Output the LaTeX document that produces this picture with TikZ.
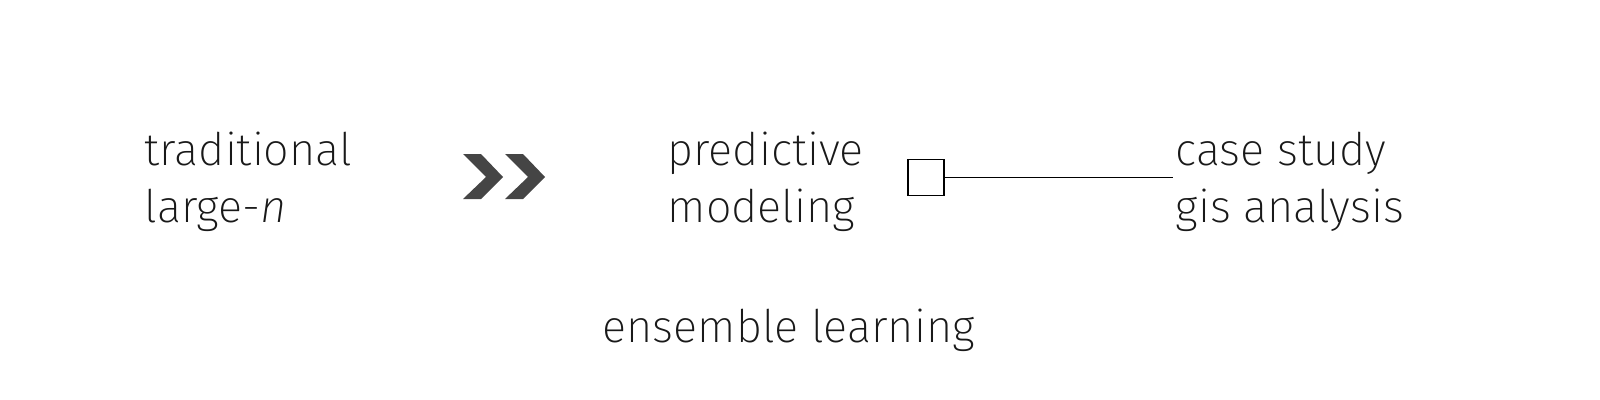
\documentclass[tikz,border=0pt]{standalone}
\usepackage{fontspec}
\setmainfont{Fira Sans ExtraLight}[ItalicFont={Fira Sans ExtraLight Italic}]
\usetikzlibrary{positioning}

\begin{document}
\begin{tikzpicture}[x=0.01cm, y=-0.01cm,
  label/.style={font=\fontsize{12.8}{16.2}\selectfont, align=left,
                inner sep=0pt, text=black!90},
  marker/.style={draw, line width=0.4pt, minimum size=0.36cm, inner sep=0pt},
  chevron/.style={fill=black!73, draw=none}]
  \useasboundingbox (0,0) rectangle (1600,400);
  % text blocks
  \node[label, anchor=base west] (trad) at (144,222) {traditional\\large-\textit{n}};
  \node[label, anchor=base west] (pred) at (667,222) {predictive\\modeling};
  \node[label, anchor=base west] (case) at (1175,222) {case study\\gis analysis};
  \node[label, anchor=base west] (ens) at (602,342) {ensemble learning};
  % double chevron
  \foreach \dx in {0,42} {
    \fill[chevron, xshift=\dx*0.01cm] (463,154) -- (481,154) -- (503,177)
      -- (481,199) -- (463,199) -- (486,177) -- cycle;
  }
  % square marker and link
  \node[marker] (sq) at (926,177.5) {};
  \coordinate (end) at (1173,177.5);
  \draw[line width=0.4pt] (sq.east) -- (end);
\end{tikzpicture}
\end{document}
